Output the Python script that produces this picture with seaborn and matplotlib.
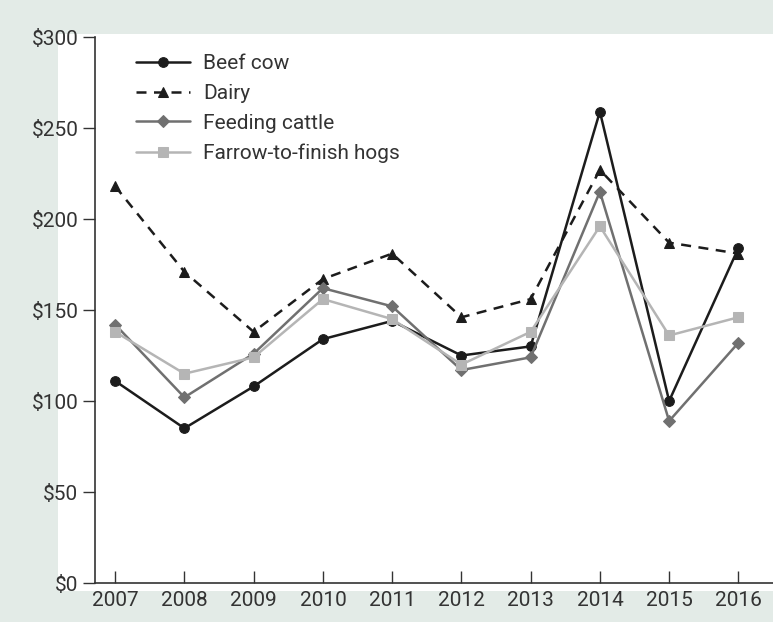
import matplotlib
matplotlib.use("Agg")
import matplotlib.pyplot as plt
import seaborn as sns
from matplotlib.patches import Rectangle
from matplotlib.ticker import FuncFormatter

years = [2007, 2008, 2009, 2010, 2011, 2012, 2013, 2014, 2015, 2016]
beef_cow = [111, 85, 108, 134, 144, 125, 130, 259, 100, 184]
dairy = [218, 171, 138, 167, 181, 146, 156, 227, 187, 181]
feeding_cattle = [142, 102, 126, 162, 152, 117, 124, 215, 89, 132]
farrow_hogs = [138, 115, 124, 156, 145, 120, 138, 196, 136, 146]

series_names = ["Beef cow", "Dairy", "Feeding cattle", "Farrow-to-finish hogs"]
series_values = [beef_cow, dairy, feeding_cattle, farrow_hogs]
y_ticks = [0, 50, 100, 150, 200, 250, 300]

styles = [
    dict(color="#1c1c1c", marker="o", linestyle="-"),
    dict(color="#1c1c1c", marker="^", linestyle=(0, (4, 3))),
    dict(color="#707070", marker="D", linestyle="-"),
    dict(color="#b5b5b5", marker="s", linestyle="-"),
]

sns.set_theme(style="white")
plt.rcParams["font.family"] = ["Roboto", "DejaVu Sans"]

fig = plt.figure(figsize=(7.73, 6.22), dpi=100, facecolor="#e3ebe7")
# white panel behind the plot area
fig.add_artist(Rectangle((0.075, 0.05), 0.93, 0.895, transform=fig.transFigure,
                         facecolor="white", edgecolor="none", zorder=-10))
ax = fig.add_axes([0.123, 0.0627, 0.877, 0.8778])
ax.set_facecolor("white")

for name, vals, st in zip(series_names, series_values, styles):
    ms = 6 if st["marker"] == "D" else 7
    sns.lineplot(x=years, y=vals, ax=ax, label=name, color=st["color"],
                 marker=st["marker"], linestyle=st["linestyle"], linewidth=1.8,
                 markersize=ms, markeredgecolor=st["color"])

ax.set_xlim(2006.71, 2016.5)
ax.set_ylim(0, 300)
ax.set_xticks(years)
ax.set_yticks(y_ticks)
ax.yaxis.set_major_formatter(FuncFormatter(lambda v, p: f"${int(v)}"))

for side in ["top", "right"]:
    ax.spines[side].set_visible(False)
for side in ["left", "bottom"]:
    ax.spines[side].set_color("#333333")
    ax.spines[side].set_linewidth(1.2)

ax.tick_params(axis="y", direction="out", length=9, width=1, color="#333333",
               labelsize=15, labelcolor="#333333", left=True, pad=3)
ax.tick_params(axis="x", direction="in", length=9, width=1, color="#333333",
               labelsize=15, labelcolor="#333333", bottom=True, pad=6)
ax.set_xlabel("")
ax.set_ylabel("")

ax.legend(loc="upper left", bbox_to_anchor=(0.033, 1.003), frameon=False,
          fontsize=15, handlelength=2.6, labelspacing=0.52, handletextpad=0.6,
          labelcolor="#333333")

fig.savefig("out.png", dpi=100, facecolor=fig.get_facecolor())
